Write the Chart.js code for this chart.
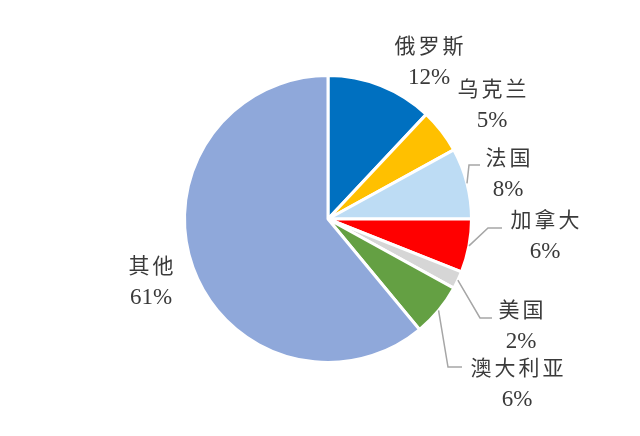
<!DOCTYPE html>
<html>
<head>
<meta charset="utf-8">
<script src="https://cdn.jsdelivr.net/npm/chart.js@4.4.1/dist/chart.umd.min.js"></script>
<style>
  html, body { margin: 0; padding: 0; background: #fff; }
  #wrap { width: 640px; height: 436px; }
</style>
</head>
<body>
<div id="wrap"><canvas id="pieChart" width="640" height="436"></canvas></div>
<script>
// data
const countries = ['俄罗斯', '乌克兰', '法国', '加拿大', '美国', '澳大利亚', '其他'];
const shares = [12, 5, 8, 6, 2, 6, 61];
const sliceColors = ['#0070C0', '#FFC000', '#BDDCF4', '#FF0000', '#D6D6D6', '#64A043', '#8FA8DA'];

// label placement (text centre), leader line elbow + end (null = no line)
const labelPos = [
    { x: 429, y: 45 },
    { x: 492, y: 88 },
    { x: 508, y: 157, elbow: [469, 165], end: [480, 165] },
    { x: 545, y: 219, elbow: [488, 228], end: [502, 228] },
    { x: 521, y: 309, elbow: [480, 318], end: [492, 318] },
    { x: 517, y: 367, elbow: [448, 367], end: [462, 367] },
    { x: 151, y: 265 }
];

const ctx = document.getElementById('pieChart').getContext('2d');

const pieLabels = {
    id: 'pieLabels',
    afterDraw(chart) {
        const c = chart.ctx;
        const arcs = chart.getDatasetMeta(0).data;
        c.save();
        // leader lines
        c.strokeStyle = '#A6A6A6';
        c.lineWidth = 1.5;
        arcs.forEach((arc, i) => {
            const p = labelPos[i];
            if (!p.elbow) return;
            const mid = (arc.startAngle + arc.endAngle) / 2;
            const r = arc.outerRadius;
            c.beginPath();
            c.moveTo(arc.x + Math.cos(mid) * r, arc.y + Math.sin(mid) * r);
            c.lineTo(p.elbow[0], p.elbow[1]);
            c.lineTo(p.end[0], p.end[1]);
            c.stroke();
        });
        // texts
        c.fillStyle = '#3A3A3A';
        c.textAlign = 'center';
        c.textBaseline = 'middle';
        countries.forEach((name, i) => {
            const p = labelPos[i];
            c.font = '21px "Noto Sans CJK SC"';
            c.letterSpacing = '3px';
            c.fillText(name, p.x + 1.5, p.y);
            c.font = '23px "Liberation Serif"';
            c.letterSpacing = '0px';
            c.fillText(shares[i] + '%', p.x, p.y + 33);
        });
        c.restore();
    }
};

new Chart(ctx, {
    type: 'pie',
    data: {
        labels: countries,
        datasets: [{
            data: shares,
            backgroundColor: sliceColors,
            borderColor: '#FFFFFF',
            borderWidth: 3
        }]
    },
    options: {
        responsive: false,
        animation: false,
        layout: {
            padding: { top: 74, bottom: 72, left: 128, right: 112 }
        },
        plugins: {
            legend: { display: false },
            tooltip: { enabled: false }
        }
    },
    plugins: [pieLabels]
});
</script>
</body>
</html>
